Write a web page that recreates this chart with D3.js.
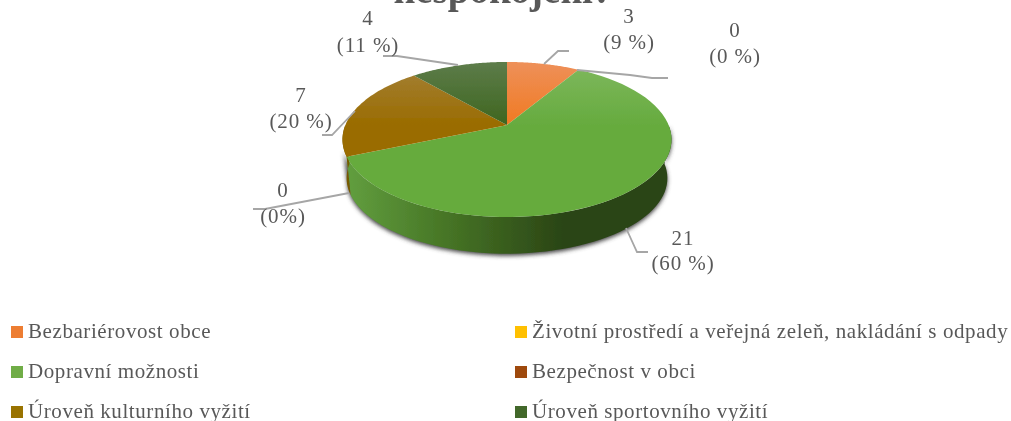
<!DOCTYPE html>
<html><head><meta charset="utf-8">
<script src="https://cdn.jsdelivr.net/npm/d3@7"></script>
<style>html,body{margin:0;padding:0;background:#fff}svg{display:block}text{font-family:"Liberation Serif",serif}</style>
</head><body><svg id="c" width="1011" height="421"></svg>
<script>
const titleText = "nespokojeni?";
const categories = ["Bezbariérovost obce","Životní prostředí a veřejná zeleň, nakládání s odpady","Dopravní možnosti","Bezpečnost v obci","Úroveň kulturního vyžití","Úroveň sportovního vyžití"];
const values = [3,0,21,0,7,4];
const valueLabels = ["3","0","21","0","7","4"];
const pctLabels = ["(9 %)","(0 %)","(60 %)","(0%)","(20 %)","(11 %)"];
const colors = ["#ED7D31","#FFC000","#70AD47","#9E480E","#997300","#43682B"];
const lightColors = ["#EE9059","#FFD040","#7FB85E","#B0602A","#A4813A","#5D7C4A"];
const midColors = ["#F07A22","#FFC000","#66AB3E","#A34A0C","#9A6C00","#3E661F"];
const labelPos = [[629,23,49],[735,37,63],[683,245,270],[283,197,223],[301,102,128],[368,25,52]];
const leaders = [[[544,64],[558,51],[569,51]],[[577,70],[630,75],[652,78],[668,78]],[[626,228],[637,252],[648,252]],[[349,193],[265,209],[253,209]],[[355,111],[332,135],[322,135]],[[458,65],[397,56],[383,56]]];
const legendPos = [[11,332],[515,332],[11,372],[515,372],[11,412],[515,412]];

const svg = d3.select("#c");
const defs = svg.append("defs");
const cx=507, y0=125, R=161.6, H=74.8, k=0.187, depth=39, shrink=0.975;
const project=(a,dep=0)=>{const u=Math.sin(a),v=Math.cos(a),w=1+k*v,s=dep?shrink:1;
  return [cx+s*R*u/w, y0+dep+s*H*v*-1/w];};
const arcs=d3.pie().sort(null).value(d=>d)(values);
const samples=(a0,a1,dep=0)=>d3.range(0,61).map(i=>project(a0+(a1-a0)*i/60,dep));
const line=d3.line();

colors.forEach((c,i)=>{
  const g=defs.append("linearGradient").attr("id","t"+i).attr("gradientUnits","userSpaceOnUse").attr("x1",0).attr("x2",0).attr("y1",62).attr("y2",125);
  g.append("stop").attr("offset",0).attr("stop-color",lightColors[i]);
  g.append("stop").attr("offset",1).attr("stop-color",midColors[i]);
});
const sg=defs.append("linearGradient").attr("id","side").attr("gradientUnits","userSpaceOnUse").attr("x1",345).attr("x2",565).attr("y1",0).attr("y2",0);
sg.append("stop").attr("offset",0).attr("stop-color","#629F3F");
sg.append("stop").attr("offset",.45).attr("stop-color","#477626");
sg.append("stop").attr("offset",1).attr("stop-color","#2A4415");
defs.append("filter").attr("id","sh").attr("x","-10%").attr("y","-10%").attr("width","120%").attr("height","130%").append("feGaussianBlur").attr("stdDeviation",2);
defs.append("filter").attr("id","soft").append("feGaussianBlur").attr("stdDeviation",0.4);

const root=svg.append("g").attr("filter","url(#soft)");
root.append("text").attr("x",503).attr("y",3).attr("text-anchor","middle").attr("font-size",39).attr("font-weight","bold").attr("fill","#595959").text(titleText);

// shadow from the rim
const rim=[...samples(Math.PI/2,Math.PI*1.4),...samples(Math.PI*1.4,Math.PI/2,depth)];
root.append("path").attr("d",line(rim)+"Z").attr("fill","#444").attr("filter","url(#sh)").attr("transform","translate(0,2)");

// side walls
arcs.forEach((d,i)=>{
  if(d.value===0) return;
  const a0=Math.max(d.startAngle,Math.PI/2),a1=Math.min(d.endAngle,1.5*Math.PI);
  if(a1<=a0) return;
  root.append("path").attr("d",line([...samples(a0,a1),...samples(a1,a0,depth)])+"Z")
    .attr("fill",i===2?"url(#side)":d3.color(colors[i]).darker(.7));
});
// top faces
arcs.forEach((d,i)=>{
  if(d.value===0) return;
  root.append("path").attr("d",line([[cx,y0],...samples(d.startAngle,d.endAngle)])+"Z").attr("fill",`url(#t${i})`);
});
// leaders
root.selectAll("path.l").data(leaders).join("path").attr("class","l").attr("d",d=>d3.line()(d)).attr("fill","none").attr("stroke","#A6A6A6").attr("stroke-width",1.8);
// labels
values.forEach((v,i)=>{
  const t=root.append("text").attr("text-anchor","middle").attr("font-size",21).attr("letter-spacing",0.9).attr("fill","#595959");
  t.append("tspan").attr("x",labelPos[i][0]).attr("y",labelPos[i][1]).text(valueLabels[i]);
  t.append("tspan").attr("x",labelPos[i][0]).attr("y",labelPos[i][2]).text(pctLabels[i]);
});
// legend
const lg=root.selectAll("g.lg").data(categories).join("g").attr("class","lg").attr("transform",(d,i)=>`translate(${legendPos[i]})`);
lg.append("rect").attr("x",0).attr("y",-6).attr("width",12).attr("height",12).attr("fill",(d,i)=>colors[i]);
lg.append("text").attr("x",17).attr("y",6).attr("font-size",21).attr("letter-spacing",0.58).attr("fill","#595959").text(d=>d);
</script></body></html>
